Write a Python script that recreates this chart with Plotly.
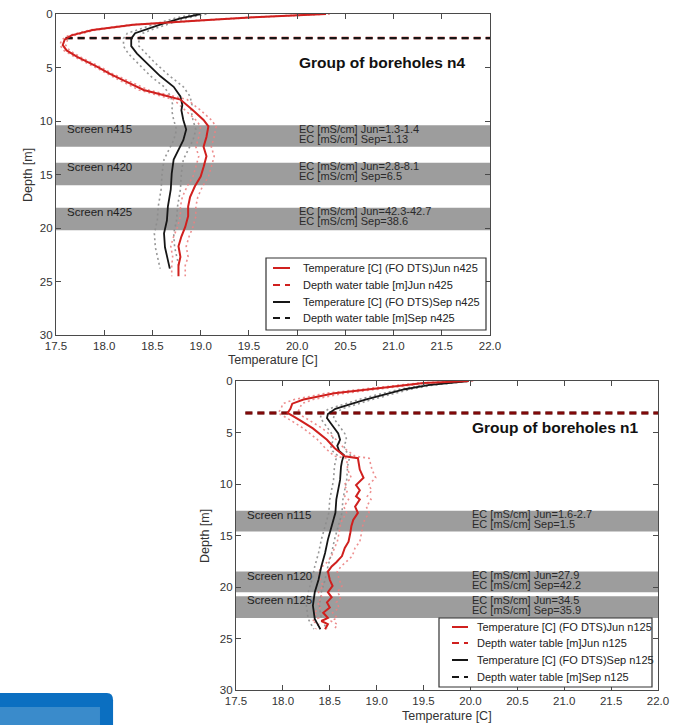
import plotly.graph_objects as go

FONT = "Liberation Sans, Arial, Helvetica, sans-serif"
W, H = 677, 725

# ---------------- Group of boreholes n4 (upper panel) ----------------
N4_JUN_DEPTH = [0.0, 0.3, 0.6, 1.0, 1.5, 2.0, 2.4, 2.9, 3.4, 4.0,
                4.9, 5.6, 6.2, 7.1, 7.6, 8.0, 9.0, 9.9, 10.5, 11.5,
                12.4, 13.3, 14.3, 15.2, 16.1, 17.1, 18.0, 18.9, 19.9, 20.8,
                21.7, 22.7, 23.5, 24.5]
N4_JUN_TEMP = [20.30, 19.55, 18.99, 18.30, 17.88, 17.66, 17.59, 17.57, 17.61, 17.72,
               17.92, 18.06, 18.20, 18.41, 18.62, 18.79, 18.92, 19.03, 19.08, 19.06,
               19.03, 19.06, 19.03, 19.00, 18.94, 18.89, 18.87, 18.87, 18.84, 18.80,
               18.77, 18.79, 18.77, 18.77]
N4_JUN_SPREAD = [0.04, 0.04, 0.04, 0.03, 0.03, 0.03, 0.03, 0.03, 0.03, 0.03,
                 0.03, 0.03, 0.04, 0.05, 0.06, 0.07, 0.08, 0.08, 0.08, 0.08,
                 0.08, 0.08, 0.08, 0.08, 0.08, 0.08, 0.08, 0.08, 0.08, 0.08,
                 0.08, 0.08, 0.07, 0.07]

N4_SEP_DEPTH = [0.0, 0.4, 0.9, 1.4, 1.8, 2.3, 3.0, 3.7, 4.6, 5.8,
                6.8, 7.7, 8.5, 9.0, 9.9, 10.8, 11.8, 12.7, 13.6, 14.9,
                16.4, 18.0, 19.3, 20.5, 21.8, 23.0, 23.8]
N4_SEP_TEMP = [19.00, 18.79, 18.61, 18.44, 18.32, 18.28, 18.28, 18.34, 18.44, 18.58,
               18.72, 18.79, 18.81, 18.80, 18.82, 18.85, 18.82, 18.77, 18.72, 18.70,
               18.69, 18.66, 18.65, 18.62, 18.63, 18.66, 18.68]
N4_SEP_SPREAD = [0.06, 0.06, 0.07, 0.07, 0.08, 0.08, 0.08, 0.09, 0.09, 0.10,
                 0.10, 0.10, 0.10, 0.10, 0.10, 0.10, 0.10, 0.10, 0.10, 0.10,
                 0.10, 0.10, 0.10, 0.10, 0.10, 0.10, 0.10]

N4_WATER_TABLE_JUN = 2.25
N4_WATER_TABLE_SEP = 2.25
N4_WT_TEMP_SPAN = [17.6, 22.0]

N4_SCREEN_NAMES = ["Screen n415", "Screen n420", "Screen n425"]
N4_SCREEN_TOP = [10.4, 13.9, 18.1]
N4_SCREEN_BOTTOM = [12.4, 16.0, 20.2]
N4_EC_JUN = ["EC [mS/cm] Jun=1.3-1.4", "EC [mS/cm] Jun=2.8-8.1", "EC [mS/cm] Jun=42.3-42.7"]
N4_EC_SEP = ["EC [mS/cm] Sep=1.13", "EC [mS/cm] Sep=6.5", "EC [mS/cm] Sep=38.6"]
N4_TITLE = "Group of boreholes n4"
N4_LEGEND = ["Temperature [C] (FO DTS)Jun n425", "Depth water table [m]Jun n425",
             "Temperature [C] (FO DTS)Sep n425", "Depth water table [m]Sep n425"]

# ---------------- Group of boreholes n1 (lower panel) ----------------
N1_JUN_DEPTH = [0.0, 0.2, 0.7, 1.2, 1.8, 2.2, 2.7, 3.1, 3.8, 4.6,
                5.7, 6.5, 7.3, 7.5, 8.6, 9.4, 10.1, 10.6, 11.2, 11.5,
                12.2, 12.8, 13.5, 14.1, 14.7, 15.6, 16.2, 17.0, 17.6, 18.0,
                18.5, 19.3, 19.9, 20.5, 21.0, 21.5, 22.0, 22.5, 23.0, 23.3,
                23.6, 24.1]
N1_JUN_TEMP = [19.98, 19.50, 19.02, 18.55, 18.22, 18.10, 18.08, 18.05, 18.18, 18.32,
               18.47, 18.55, 18.66, 18.80, 18.82, 18.86, 18.78, 18.82, 18.78, 18.82,
               18.77, 18.80, 18.75, 18.73, 18.72, 18.70, 18.66, 18.63, 18.57, 18.52,
               18.48, 18.50, 18.53, 18.48, 18.52, 18.47, 18.50, 18.43, 18.48, 18.41,
               18.48, 18.45]
N1_JUN_SPREAD = [0.05, 0.06, 0.08, 0.10, 0.10, 0.10, 0.10, 0.10, 0.10, 0.10,
                 0.10, 0.10, 0.11, 0.12, 0.13, 0.13, 0.13, 0.13, 0.12, 0.12,
                 0.12, 0.12, 0.12, 0.12, 0.12, 0.12, 0.11, 0.11, 0.10, 0.10,
                 0.10, 0.10, 0.10, 0.10, 0.10, 0.10, 0.10, 0.10, 0.10, 0.10,
                 0.10, 0.10]

N1_SEP_DEPTH = [0.0, 0.4, 0.8, 1.3, 1.8, 2.2, 2.7, 3.2, 3.6, 4.1,
                4.6, 5.1, 5.7, 6.3, 6.8, 7.2, 7.8, 8.3, 9.6, 10.5,
                11.5, 12.8, 14.1, 15.4, 16.7, 18.0, 19.3, 20.5, 21.8, 23.1,
                23.6, 24.1]
N1_SEP_TEMP = [19.98, 19.55, 19.30, 19.08, 18.88, 18.74, 18.56, 18.48, 18.47, 18.51,
               18.55, 18.59, 18.61, 18.58, 18.60, 18.65, 18.63, 18.62, 18.61, 18.59,
               18.57, 18.56, 18.52, 18.48, 18.45, 18.41, 18.38, 18.34, 18.32, 18.34,
               18.37, 18.40]
N1_SEP_SPREAD = [0.04, 0.05, 0.06, 0.06, 0.07, 0.07, 0.07, 0.07, 0.07, 0.07,
                 0.07, 0.07, 0.07, 0.07, 0.07, 0.07, 0.07, 0.07, 0.07, 0.07,
                 0.07, 0.07, 0.07, 0.07, 0.07, 0.07, 0.07, 0.07, 0.07, 0.07,
                 0.07, 0.07]

N1_WATER_TABLE_JUN = 3.1
N1_WATER_TABLE_SEP = 3.1
N1_WT_TEMP_SPAN = [17.6, 22.0]

N1_SCREEN_NAMES = ["Screen n115", "Screen n120", "Screen n125"]
N1_SCREEN_TOP = [12.6, 18.5, 20.9]
N1_SCREEN_BOTTOM = [14.6, 20.5, 23.0]
N1_EC_JUN = ["EC [mS/cm] Jun=1.6-2.7", "EC [mS/cm] Jun=27.9", "EC [mS/cm] Jun=34.5"]
N1_EC_SEP = ["EC [mS/cm] Sep=1.5", "EC [mS/cm] Sep=42.2", "EC [mS/cm] Sep=35.9"]
N1_TITLE = "Group of boreholes n1"
N1_LEGEND = ["Temperature [C] (FO DTS)Jun n125", "Depth water table [m]Jun n125",
             "Temperature [C] (FO DTS)Sep n125", "Depth water table [m]Sep n125"]

X_TICKS = [17.5, 18.0, 18.5, 19.0, 19.5, 20.0, 20.5, 21.0, 21.5, 22.0]
Y_TICKS = [0, 5, 10, 15, 20, 25, 30]
X_TITLE = "Temperature [C]"
Y_TITLE = "Depth [m]"

RED = "#d0201e"
BLACK = "#161616"
PINK_DOT = "rgba(235,130,130,0.9)"
GREY_DOT = "rgba(140,140,140,0.9)"
BAND = "#9d9d9d"
WT_DASH = "7px,5px"


def px(x):
    return x / W


def py(y):
    return 1 - y / H


fig = go.Figure()


def add_group(xa, ya, jd, jt, js, sd, st, ss, wt_j, wt_s, wt_span, jun_on_top):
    for d, t, s, col in [(sd, st, ss, GREY_DOT), (jd, jt, js, PINK_DOT)]:
        for sign in (-1, 1):
            fig.add_trace(go.Scatter(
                x=[ti + sign * si for ti, si in zip(t, s)], y=d,
                mode="lines", line=dict(color=col, width=1.6, dash="2px,3px"),
                xaxis=xa, yaxis=ya, hoverinfo="skip"))
    if not jun_on_top:
        fig.add_trace(go.Scatter(
            x=wt_span, y=[wt_j, wt_j], mode="lines",
            line=dict(color=RED, width=2.5, dash=WT_DASH),
            xaxis=xa, yaxis=ya, hoverinfo="skip"))
    fig.add_trace(go.Scatter(
        x=wt_span, y=[wt_s, wt_s], mode="lines",
        line=dict(color=BLACK, width=2.2 if not jun_on_top else 3, dash=WT_DASH),
        xaxis=xa, yaxis=ya, hoverinfo="skip"))
    if jun_on_top:
        # Jun water table drawn over the Sep one (blends to dark red)
        fig.add_trace(go.Scatter(
            x=wt_span, y=[wt_j, wt_j], mode="lines",
            line=dict(color="rgba(200,0,0,0.6)", width=3, dash=WT_DASH),
            xaxis=xa, yaxis=ya, hoverinfo="skip"))
    fig.add_trace(go.Scatter(x=st, y=sd, mode="lines", line=dict(color=BLACK, width=1.8),
                             xaxis=xa, yaxis=ya))
    fig.add_trace(go.Scatter(x=jt, y=jd, mode="lines", line=dict(color=RED, width=2),
                             xaxis=xa, yaxis=ya))


add_group("x", "y", N4_JUN_DEPTH, N4_JUN_TEMP, N4_JUN_SPREAD,
          N4_SEP_DEPTH, N4_SEP_TEMP, N4_SEP_SPREAD,
          N4_WATER_TABLE_JUN, N4_WATER_TABLE_SEP, N4_WT_TEMP_SPAN, False)
add_group("x2", "y2", N1_JUN_DEPTH, N1_JUN_TEMP, N1_JUN_SPREAD,
          N1_SEP_DEPTH, N1_SEP_TEMP, N1_SEP_SPREAD,
          N1_WATER_TABLE_JUN, N1_WATER_TABLE_SEP, N1_WT_TEMP_SPAN, True)

shapes = []
annotations = []

# screens (grey bands), labels and group titles
for xa, ya, names, tops, bots, ecj, ecs, title, label_x in [
        ("x", "y", N4_SCREEN_NAMES, N4_SCREEN_TOP, N4_SCREEN_BOTTOM, N4_EC_JUN, N4_EC_SEP,
         N4_TITLE, 17.59),
        ("x2", "y2", N1_SCREEN_NAMES, N1_SCREEN_TOP, N1_SCREEN_BOTTOM, N1_EC_JUN, N1_EC_SEP,
         N1_TITLE, 17.6)]:
    for name, t0, t1, j, s in zip(names, tops, bots, ecj, ecs):
        shapes.append(dict(type="rect", xref=f"{xa} domain", yref=ya, x0=0, x1=1,
                           y0=t0, y1=t1, fillcolor=BAND, line=dict(width=0), layer="below"))
        annotations.append(dict(x=label_x, y=t0, xref=xa, yref=ya, text=name, showarrow=False,
                                xanchor="left", yanchor="middle", yshift=-4,
                                font=dict(family=FONT, size=11.5, color="#1e1e1e")))
        annotations.append(dict(x=20.0, y=t0, xref=xa, yref=ya, text=j, showarrow=False,
                                xanchor="left", yanchor="middle", yshift=-3.5,
                                font=dict(family=FONT, size=11, color="#2a2a2a")))
        annotations.append(dict(x=20.0, y=t0, xref=xa, yref=ya, text=s, showarrow=False,
                                xanchor="left", yanchor="middle", yshift=-13.5,
                                font=dict(family=FONT, size=11, color="#2a2a2a")))
    annotations.append(dict(x=20.0, y=4.5, xref=xa, yref=ya, text=f"<b>{title}</b>",
                            showarrow=False, xanchor="left", yanchor="middle",
                            font=dict(family=FONT, size=15.5, color="#111")))

# axis titles
for tx, ty, angle, text in [(273, 360, 0, X_TITLE), (28, 175, -90, Y_TITLE),
                            (447, 716, 0, X_TITLE), (205, 536, -90, Y_TITLE)]:
    annotations.append(dict(x=px(tx), y=py(ty), xref="paper", yref="paper", text=text,
                            showarrow=False, textangle=angle, xanchor="center", yanchor="middle",
                            font=dict(family=FONT, size=12.5, color="#333")))

# legends (box, line samples, labels)
LEG_STYLES = [(RED, "solid"), (RED, WT_DASH), (BLACK, "solid"), (BLACK, WT_DASH)]
for box, rows, sx0, sx1, tx, labels in [
        ((266, 258, 486, 330), (268, 285, 302, 318), 273, 290, 301, N4_LEGEND),
        ((439, 618, 652, 687), (627, 643, 660, 677), 452, 468, 475, N1_LEGEND)]:
    shapes.append(dict(type="rect", xref="paper", yref="paper",
                       x0=px(box[0]), x1=px(box[2]), y0=py(box[3]), y1=py(box[1]),
                       fillcolor="white", line=dict(color="#333", width=1.2), layer="above"))
    for ry, lab, (col, dash) in zip(rows, labels, LEG_STYLES):
        line = dict(color=col, width=2)
        if dash != "solid":
            line["dash"] = dash
        shapes.append(dict(type="line", xref="paper", yref="paper",
                           x0=px(sx0), x1=px(sx1), y0=py(ry), y1=py(ry),
                           line=line, layer="above"))
        annotations.append(dict(x=px(tx), y=py(ry), xref="paper", yref="paper", text=lab,
                                showarrow=False, xanchor="left", yanchor="middle",
                                font=dict(family=FONT, size=11, color="#222")))

# blue widget at bottom-left corner
shapes.append(dict(type="path", xref="paper", yref="paper",
                   path="M -0.01,0 L -0.01,0.0441 L 0.158,0.0441 Q 0.167,0.0441 0.167,0.034 L 0.167,0 Z",
                   fillcolor="#0b6fc1", line=dict(width=0), layer="above"))
shapes.append(dict(type="rect", xref="paper", yref="paper", x0=-0.01, x1=0.1477, y0=-0.01, y1=0.0248,
                   fillcolor="#3a8bcb", line=dict(width=0), layer="above"))

axis_common = dict(
    showgrid=False, zeroline=False, showline=True, linecolor="#4a4a4a", linewidth=1.2,
    mirror="allticks", ticks="inside", ticklen=5, tickcolor="#4a4a4a", automargin=False,
    tickfont=dict(family=FONT, size=11.5, color="#333"),
)

fig.update_layout(
    template="none",
    width=W, height=H,
    margin=dict(l=0, r=0, t=0, b=0, pad=0),
    paper_bgcolor="white", plot_bgcolor="white",
    font=dict(family=FONT, color="#333"),
    showlegend=False,
    xaxis=dict(domain=[px(56), px(490)], range=[17.5, 22.0], tickvals=X_TICKS,
               tickformat=".1f", anchor="y", **axis_common),
    yaxis=dict(domain=[py(335), py(14)], range=[30, 0], tickvals=Y_TICKS,
               anchor="x", **axis_common),
    xaxis2=dict(domain=[px(236), px(658)], range=[17.5, 22.0], tickvals=X_TICKS,
                tickformat=".1f", anchor="y2", **axis_common),
    yaxis2=dict(domain=[py(690), py(381)], range=[30, 0], tickvals=Y_TICKS,
                anchor="x2", **axis_common),
    shapes=shapes,
    annotations=annotations,
)

fig.write_html(
    "out.html",
    config={"displayModeBar": False},
    post_script="document.body.style.margin='0px';document.body.style.overflow='hidden';",
)
